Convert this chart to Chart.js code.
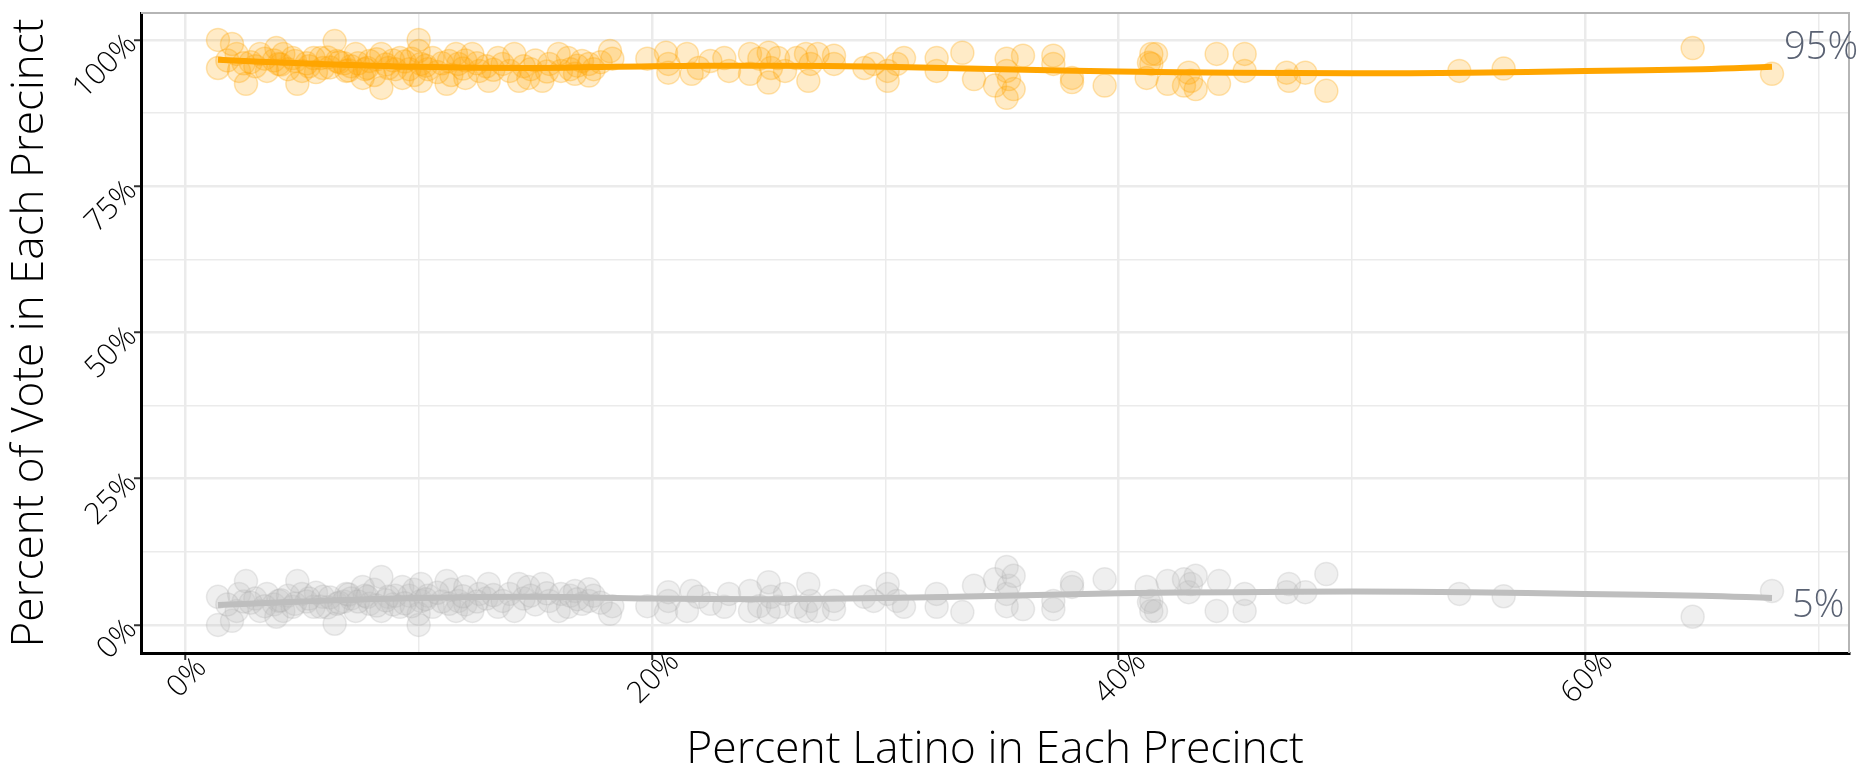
<!DOCTYPE html>
<html>
<head>
<meta charset="utf-8">
<script src="https://cdn.jsdelivr.net/npm/chart.js@4"></script>
<style>
  body { margin: 0; background: #fff; }
</style>
</head>
<body>
<canvas id="precinctChart" width="1862" height="767"></canvas>
<script>
// percent latino in each precinct (x) and vote share of each candidate (y)
const latinoPct = [1.4,1.4,2.0,2.2,2.3,2.5,2.6,3.0,3.2,3.5,
  3.8,3.9,4.0,4.2,4.4,4.6,4.8,5.0,5.2,5.5,
  5.6,5.9,6.1,6.4,6.5,6.8,6.9,7.1,7.3,7.6,
  7.7,7.9,8.1,8.4,8.4,8.7,8.9,9.2,9.3,9.6,
  9.8,10.0,10.0,10.1,10.1,10.4,10.6,11.0,11.2,11.4,
  11.6,11.7,12.0,12.0,12.3,12.6,12.9,13.0,13.4,13.9,
  14.1,14.3,14.5,14.7,15.0,15.3,15.6,16.0,16.1,16.4,
  16.5,16.7,17.0,17.3,17.3,17.5,18.2,18.3,19.8,20.6,
  20.7,20.7,21.5,21.7,22.0,22.5,23.1,23.3,24.2,24.2,
  24.6,25.0,25.1,25.0,25.4,25.7,26.2,26.6,26.8,26.7,
  27.1,27.8,27.8,29.1,29.5,30.1,30.1,30.5,30.8,32.2,
  32.2,33.3,33.8,34.7,35.2,35.2,35.3,35.2,35.5,35.9,
  37.2,37.2,38.0,38.0,39.4,41.2,41.3,41.4,41.4,41.6,
  42.1,42.8,43.0,43.1,43.3,44.2,44.3,45.4,45.4,47.2,
  47.3,48.0,48.9,54.6,56.5,64.6,68.0,
  1.8,2.8,3.4,4.1,4.7,5.3,5.8,6.2,6.6,7.0,
  7.4,7.8,8.2,8.6,9.0,9.4,9.7,10.3,10.8,11.3,
  11.9,12.5,13.2,13.6,14.8,15.5,16.8,17.8];

const orangeVote = [100,95.2,99.3,97.6,94.7,96.0,92.5,95.5,97.6,94.7,
  96.5,98.6,95.9,97.6,95.0,96.9,92.5,94.7,96.0,96.9,
  94.5,95.2,97.0,99.8,96.4,96.0,94.7,95.5,97.6,93.5,
  95.0,96.4,94.0,97.6,91.8,95.2,96.5,96.9,93.5,95.0,
  94.0,100,98.1,95.9,93.0,95.0,96.9,96.0,92.5,94.0,
  97.6,95.9,93.5,96.5,97.6,94.7,95.5,93.0,96.9,94.7,
  97.6,93.0,95.5,93.5,96.5,93.0,95.9,97.6,94.7,96.9,
  95.0,94.2,96.4,95.9,93.9,95.0,98.1,96.8,96.8,97.8,
  95.9,94.4,97.6,94.2,95.2,96.4,96.9,94.7,97.6,94.2,
  96.8,97.8,95.2,92.7,96.9,94.7,96.9,97.6,95.9,93.0,
  97.6,97.3,95.9,95.2,95.9,94.7,93.0,95.9,96.9,96.9,
  94.7,97.8,93.3,92.2,96.8,94.7,93.3,90.1,91.6,97.3,
  97.3,95.9,93.5,92.8,92.2,93.5,96.1,97.6,95.9,97.6,
  92.5,92.2,94.4,93.0,91.6,97.6,92.5,97.6,94.7,94.4,
  93.0,94.4,91.3,94.7,95.1,98.6,94.2,
  96.5,96.2,96.8,95.8,96.4,95.5,96.9,95.3,96.2,94.8,
  96.0,95.2,96.7,95.8,95.0,96.3,96.8,95.6,94.5,96.4,
  95.1,96.0,94.9,95.9,95.0,94.6,95.6,96.2];

const grayVote = [0,4.8,0.7,2.4,5.3,4.0,7.5,4.5,2.4,5.3,
  3.5,1.4,4.1,2.4,5.0,3.1,7.5,5.3,4.0,3.1,
  5.5,4.8,3.0,0.2,3.6,4.0,5.3,4.5,2.4,6.5,
  5.0,3.6,6.0,2.4,8.2,4.8,3.5,3.1,6.5,5.0,
  6.0,0,1.9,4.1,7.0,5.0,3.1,4.0,7.5,6.0,
  2.4,4.1,6.5,3.5,2.4,5.3,4.5,7.0,3.1,5.3,
  2.4,7.0,4.5,6.5,3.5,7.0,4.1,2.4,5.3,3.1,
  5.0,5.8,3.6,4.1,6.1,5.0,1.9,3.2,3.2,2.2,
  4.1,5.6,2.4,5.8,4.8,3.6,3.1,5.3,2.4,5.8,
  3.2,2.2,4.8,7.3,3.1,5.3,3.1,2.4,4.1,7.0,
  2.4,2.7,4.1,4.8,4.1,5.3,7.0,4.1,3.1,3.1,
  5.3,2.2,6.7,7.8,3.2,5.3,6.7,9.9,8.4,2.7,
  2.7,4.1,6.5,7.2,7.8,6.5,3.9,2.4,4.1,2.4,
  7.5,7.8,5.6,7.0,8.4,2.4,7.5,2.4,5.3,5.6,
  7.0,5.6,8.7,5.3,4.9,1.4,5.8,
  3.5,3.8,3.2,4.2,3.6,4.5,3.1,4.7,3.8,5.2,
  4.0,4.8,3.3,4.2,5.0,3.7,3.2,4.4,5.5,3.6,
  4.9,4.0,5.1,4.1,5.0,5.4,4.4,3.8];

// smoothed trend lines
const fitX = [1.4, 5, 10, 15, 20, 25, 30, 35, 40, 45, 50, 55, 60, 65, 68];
const orangeFit = [96.6, 96.0, 95.4, 95.2, 95.5, 95.6, 95.4, 95.0, 94.6, 94.4, 94.3, 94.4, 94.7, 95.0, 95.4];
const grayFit = [3.4, 4.0, 4.6, 4.8, 4.5, 4.4, 4.6, 5.0, 5.4, 5.6, 5.7, 5.6, 5.3, 5.0, 4.6];
const endLabels = ["95%", "5%"];

const xTicks = [0, 10, 20, 30, 40, 50, 60, 70];
const yTicks = [0, 12.5, 25, 37.5, 50, 62.5, 75, 87.5, 100];

const toPoints = (xs, ys) => xs.map((x, i) => ({ x: x, y: ys[i] }));

const FONT = "'Open Sans', 'Lato', sans-serif";
const TICK_FONT = "300 30px " + FONT;

const isMajorX = v => v % 20 === 0;
const isMajorY = v => v % 25 === 0;

// x tick labels centred under the tick, end labels, grey top/right panel border
const decorPlugin = {
    id: "decor",
    afterDraw(chart) {
        const ctx = chart.ctx;
        const a = chart.chartArea;
        ctx.save();
        ctx.strokeStyle = "#b5b5b5";
        ctx.lineWidth = 2;
        ctx.beginPath();
        ctx.moveTo(a.left, a.top);
        ctx.lineTo(a.right, a.top);
        ctx.lineTo(a.right, a.bottom);
        ctx.stroke();

        // x tick labels
        const xs = chart.scales.x;
        ctx.font = TICK_FONT;
        ctx.fillStyle = "#000";
        ctx.textAlign = "center";
        ctx.textBaseline = "middle";
        xTicks.filter(isMajorX).forEach(v => {
            ctx.save();
            ctx.translate(xs.getPixelForValue(v) + 2, a.bottom + 25);
            ctx.rotate(-Math.PI / 4);
            ctx.fillText(v + "%", 0, 0);
            ctx.restore();
        });

        // labels at the end of the fit lines
        const offsets = [[12, -19], [20, 8]];
        [0, 1].forEach((di, k) => {
            const pts = chart.getDatasetMeta(di).data;
            const last = pts[pts.length - 1];
            ctx.font = "300 38px " + FONT;
            ctx.fillStyle = "#5a6273";
            ctx.textAlign = "left";
            ctx.textBaseline = "middle";
            ctx.fillText(endLabels[k], last.x + offsets[k][0], last.y + offsets[k][1]);
        });
        ctx.restore();
    }
};

new Chart(document.getElementById("precinctChart"), {
    type: "scatter",
    data: {
        datasets: [
            {
                data: toPoints(fitX, orangeFit),
                showLine: true,
                borderColor: "#FFA500",
                borderWidth: 6,
                pointRadius: 0,
                tension: 0.4,
                order: 0
            },
            {
                data: toPoints(fitX, grayFit),
                showLine: true,
                borderColor: "#BEBEBE",
                borderWidth: 6,
                pointRadius: 0,
                tension: 0.4,
                order: 0
            },
            {
                data: toPoints(latinoPct, orangeVote),
                backgroundColor: "rgba(255,165,0,0.22)",
                borderColor: "rgba(255,165,0,0.3)",
                borderWidth: 1.5,
                pointRadius: 11.5,
                order: 1
            },
            {
                data: toPoints(latinoPct, grayVote),
                backgroundColor: "rgba(190,190,190,0.25)",
                borderColor: "rgba(170,170,170,0.25)",
                borderWidth: 1.5,
                pointRadius: 11.5,
                order: 1
            }
        ]
    },
    options: {
        responsive: false,
        animation: false,
        layout: { padding: { top: 12, right: 4, left: 0, bottom: 0 } },
        plugins: {
            legend: { display: false },
            tooltip: { enabled: false }
        },
        scales: {
            x: {
                type: "linear",
                min: -1.9,
                max: 71.3,
                afterBuildTicks: s => { s.ticks = xTicks.map(v => ({ value: v })); },
                afterFit: s => { s.height = 114; s.paddingLeft = 0; s.paddingRight = 0; },
                border: { color: "#000", width: 3 },
                grid: {
                    color: "#ebebeb",
                    lineWidth: c => isMajorX(c.tick.value) ? 2.5 : 1.5,
                    tickColor: c => isMajorX(c.tick.value) ? "#333" : "rgba(0,0,0,0)",
                    tickLength: 7,
                    tickWidth: 2
                },
                ticks: { display: false },
                title: {
                    display: true,
                    text: "Percent Latino in Each Precinct",
                    color: "#000",
                    font: { family: FONT, size: 44.5, weight: 300, lineHeight: 1 },
                    padding: { top: 0, bottom: -6 }
                }
            },
            y: {
                type: "linear",
                min: -4.8,
                max: 104.6,
                afterBuildTicks: s => { s.ticks = yTicks.map(v => ({ value: v })); },
                afterFit: s => { s.width = 141; s.paddingTop = 0; s.paddingBottom = 0; },
                border: { color: "#000", width: 3 },
                grid: {
                    color: "#ebebeb",
                    lineWidth: c => isMajorY(c.tick.value) ? 2.5 : 1.5,
                    tickColor: c => isMajorY(c.tick.value) ? "#333" : "rgba(0,0,0,0)",
                    tickLength: 7,
                    tickWidth: 2
                },
                ticks: {
                    minRotation: 45,
                    maxRotation: 45,
                    padding: 2,
                    color: "#000",
                    font: { family: FONT, size: 30, weight: 300 },
                    callback: v => isMajorY(v) ? v + "%" : ""
                },
                title: {
                    display: true,
                    text: "Percent of Vote in Each Precinct",
                    color: "#000",
                    font: { family: FONT, size: 44, weight: 300, lineHeight: 1 },
                    padding: { top: 8.5, bottom: 0 }
                }
            }
        }
    },
    plugins: [decorPlugin]
});
</script>
</body>
</html>
